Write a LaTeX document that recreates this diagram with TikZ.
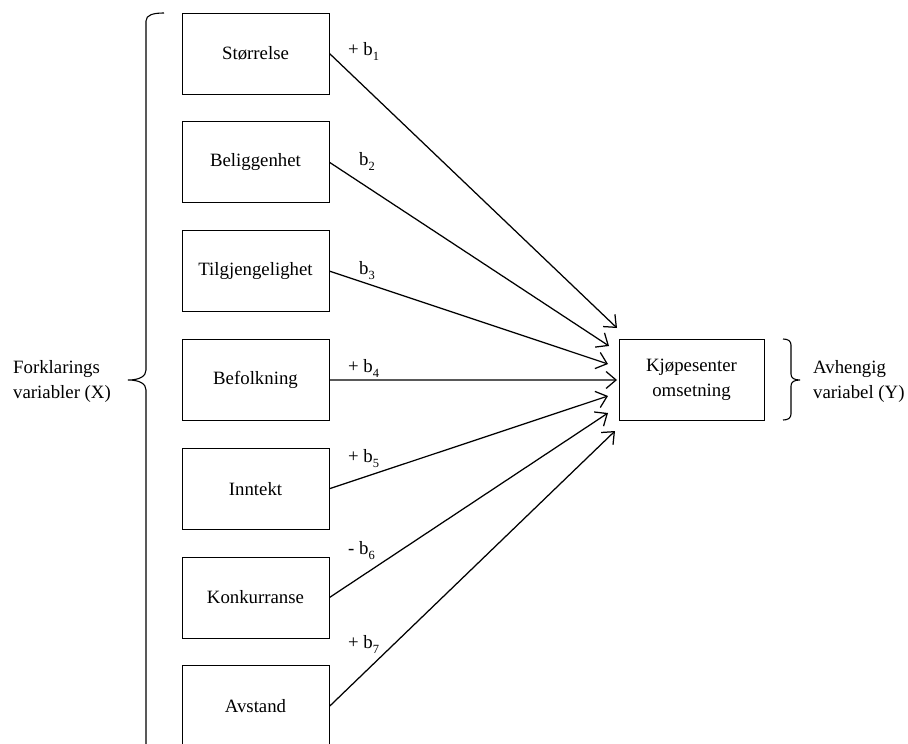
\documentclass[tikz,border=0pt]{standalone}
\usepackage{fontspec}
\setmainfont{Liberation Serif}
\usetikzlibrary{arrows.meta}
\newcommand{\lowsub}[1]{\raisebox{-0.3em}{\fontsize{12.5}{12}\selectfont #1}}
\begin{document}
\begin{tikzpicture}[x=1pt,y=-1pt,
  every node/.style={font=\fontsize{18.8}{25}\selectfont},
  varbox/.style={draw, line width=1pt, minimum width=147pt, minimum height=81pt, inner sep=0pt, align=center},
  conn/.style={line width=1.25pt, -{Straight Barb[length=10pt,width=17pt,line width=1.25pt]}},
  coef/.style={anchor=base west, inner sep=0pt},
  sidetext/.style={anchor=west, align=left, inner sep=0pt},
  bracestyle/.style={line width=1.1pt}]
\clip (0,0) rectangle (908,744);
% explanatory variables
\node[varbox] (v1) at (255.5,53.5) {Størrelse};
\node[varbox] (v2) at (255.5,162.3) {Beliggenhet};
\node[varbox] (v3) at (255.5,271.1) {Tilgjengelighet};
\node[varbox] (v4) at (255.5,379.9) {Befolkning};
\node[varbox] (v5) at (255.5,488.7) {Inntekt};
\node[varbox] (v6) at (255.5,597.5) {Konkurranse};
\node[varbox] (v7) at (255.5,706.3) {Avstand};
% dependent variable
\node[varbox, minimum width=145pt] (y) at (691.5,379.5) {Kjøpesenter\\omsetning};
% arrow end points
\coordinate (e1) at (617,328);
\coordinate (e2) at (609,346);
\coordinate (e3) at (608,364);
\coordinate (e4) at (617,380);
\coordinate (e5) at (608,396);
\coordinate (e6) at (608,413);
\coordinate (e7) at (615,431);
\draw[conn] (v1.east) -- (e1);
\draw[conn] (v2.east) -- (e2);
\draw[conn] (v3.east) -- (e3);
\draw[conn] (v4.east) -- (e4);
\draw[conn] (v5.east) -- (e5);
\draw[conn] (v6.east) -- (e6);
\draw[conn] (v7.east) -- (e7);
% coefficients
\node[coef] (b1) at (348,55) {+ b\lowsub{1}};
\node[coef] (b2) at (359,165) {b\lowsub{2}};
\node[coef] (b3) at (359,274) {b\lowsub{3}};
\node[coef] (b4) at (348,372) {+ b\lowsub{4}};
\node[coef] (b5) at (348,462) {+ b\lowsub{5}};
\node[coef] (b6) at (348,554) {- b\lowsub{6}};
\node[coef] (b7) at (348,648) {+ b\lowsub{7}};
% braces
\draw[bracestyle] (164,13) .. controls (153,13) and (146,15) .. (146,21) -- (146,370) .. controls (146,376) and (140,380) .. (128,380) .. controls (140,380) and (146,384) .. (146,390) -- (146,752);
\draw[bracestyle] (783,339) .. controls (788,339) and (791,341) .. (791,345) -- (791,374) .. controls (791,378) and (794,380) .. (800,380) .. controls (794,380) and (791,382) .. (791,386) -- (791,414) .. controls (791,418) and (788,420) .. (783,420);
% side labels
\node[sidetext] (xl) at (13,381) {Forklarings\\variabler (X)};
\node[sidetext] (yl) at (813,381) {Avhengig\\variabel (Y)};
\end{tikzpicture}
\end{document}
